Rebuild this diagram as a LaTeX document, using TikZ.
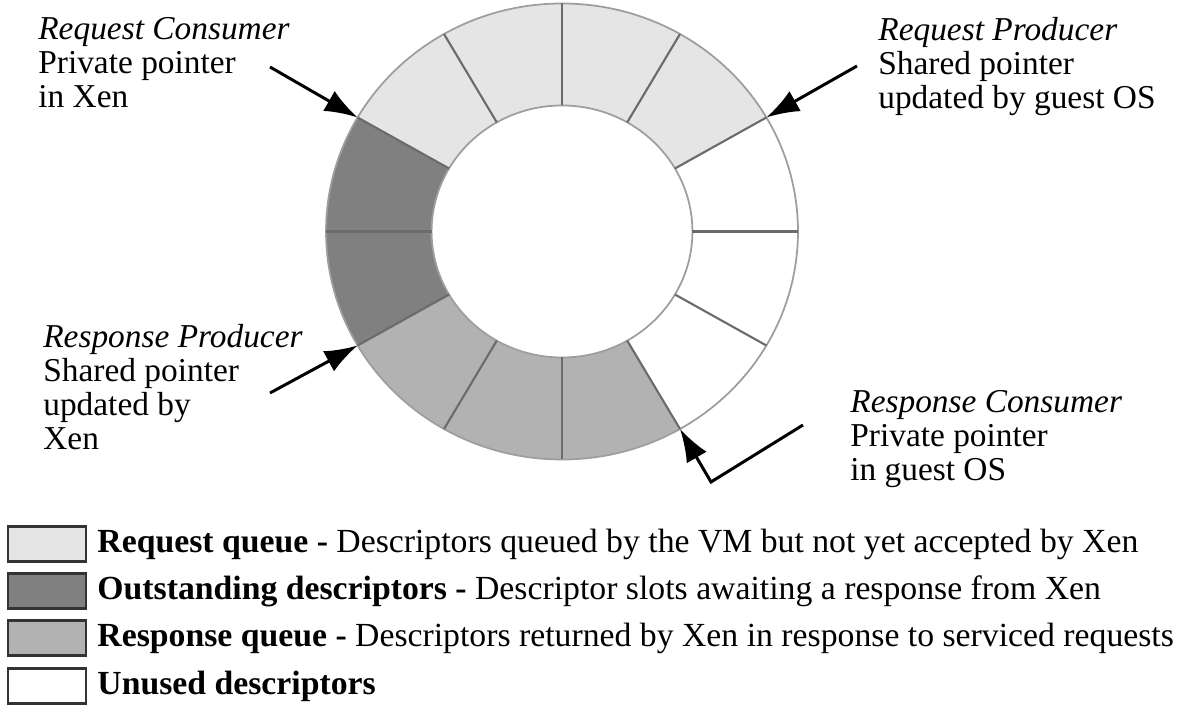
\documentclass[tikz,border=0pt]{standalone}
\usepackage{fontspec}
\setmainfont{Liberation Serif}
\usetikzlibrary{arrows.meta,calc,positioning}

\definecolor{reqgray}{gray}{0.9}
\definecolor{outgray}{gray}{0.5}
\definecolor{rspgray}{gray}{0.7}
\definecolor{arcgray}{gray}{0.62}
\definecolor{radgray}{gray}{0.42}

\tikzset{
  ptr/.style={line width=1.7pt,-{Latex[length=0.66cm,width=0.46cm]}},
  lbl/.style={anchor=north west,inner sep=0pt,align=left,font=\fontsize{19}{19.4}\selectfont},
  keybox/.style={draw=black!80,line width=1.3pt,minimum width=1.56cm,minimum height=0.7cm,inner sep=0pt},
  keytxt/.style={anchor=west,inner sep=0pt,font=\fontsize{19.2}{19.4}\selectfont}
}

\begin{document}
\begin{tikzpicture}[x=0.02cm,y=0.02cm]
  \useasboundingbox (0,0) rectangle (1178,710);
  \coordinate (c) at (562,478.5);
  \begin{scope}[shift={(c)},xscale=1.035]
    \foreach \a/\col in {0/white,30/reqgray,60/reqgray,90/reqgray,120/reqgray,150/outgray,
                         180/outgray,210/rspgray,240/rspgray,270/rspgray,300/white,330/white}
      \fill[\col] (\a:228) arc[start angle=\a,delta angle=30,radius=228]
        -- ({\a+30}:126) arc[start angle=\a+30,delta angle=-30,radius=126] -- cycle;
    \draw[arcgray,line width=1pt] (0,0) circle[radius=228] (0,0) circle[radius=126];
    \foreach \a in {0,30,...,330}
      \draw[radgray,line width=1.2pt] (\a:126) -- (\a:228);
    \coordinate (tipRC) at (150:228);
    \coordinate (tipRP) at (30:228);
    \coordinate (tipSP) at (210:228);
    \coordinate (tipSC) at (300:228);
  \end{scope}

  \node[lbl] (rcons) at (38,693) {\textit{Request Consumer}\\Private pointer\\in Xen};
  \node[lbl] (rprod) at (878,693) {\textit{Request Producer}\\Shared pointer\\updated by guest OS};
  \node[lbl] (sprod) at (43,386) {\textit{Response Producer}\\Shared pointer\\updated by\\Xen};
  \node[lbl] (scons) at (850,320) {\textit{Response Consumer}\\Private pointer\\in guest OS};

  \coordinate (tailRC) at (270,643);
  \coordinate (tailRP) at (857,644);
  \coordinate (tailSP) at (270,317);
  \coordinate (tailSC) at (803,285);
  \coordinate (bendSC) at (711,228);
  \draw[ptr] (tailRC) -- (tipRC);
  \draw[ptr] (tailRP) -- (tipRP);
  \draw[ptr] (tailSP) -- (tipSP);
  \draw[ptr] (tailSC) -- (bendSC) -- (tipSC);

  \node[keybox,fill=reqgray] (k1) at (47,166) {};
  \node[keybox,fill=outgray] (k2) at (47,119) {};
  \node[keybox,fill=rspgray] (k3) at (47,72) {};
  \node[keybox,fill=white] (k4) at (47,24) {};
  \node[keytxt,right=0.2cm of k1] (t1) {\textbf{Request queue -} Descriptors queued by the VM but not yet accepted by Xen};
  \node[keytxt,right=0.2cm of k2] (t2) {\textbf{Outstanding descriptors -} Descriptor slots awaiting a response from Xen};
  \node[keytxt,right=0.2cm of k3] (t3) {\textbf{Response queue -} Descriptors returned by Xen in response to serviced requests};
  \node[keytxt,right=0.2cm of k4] (t4) {\textbf{Unused descriptors}};
\end{tikzpicture}
\end{document}
